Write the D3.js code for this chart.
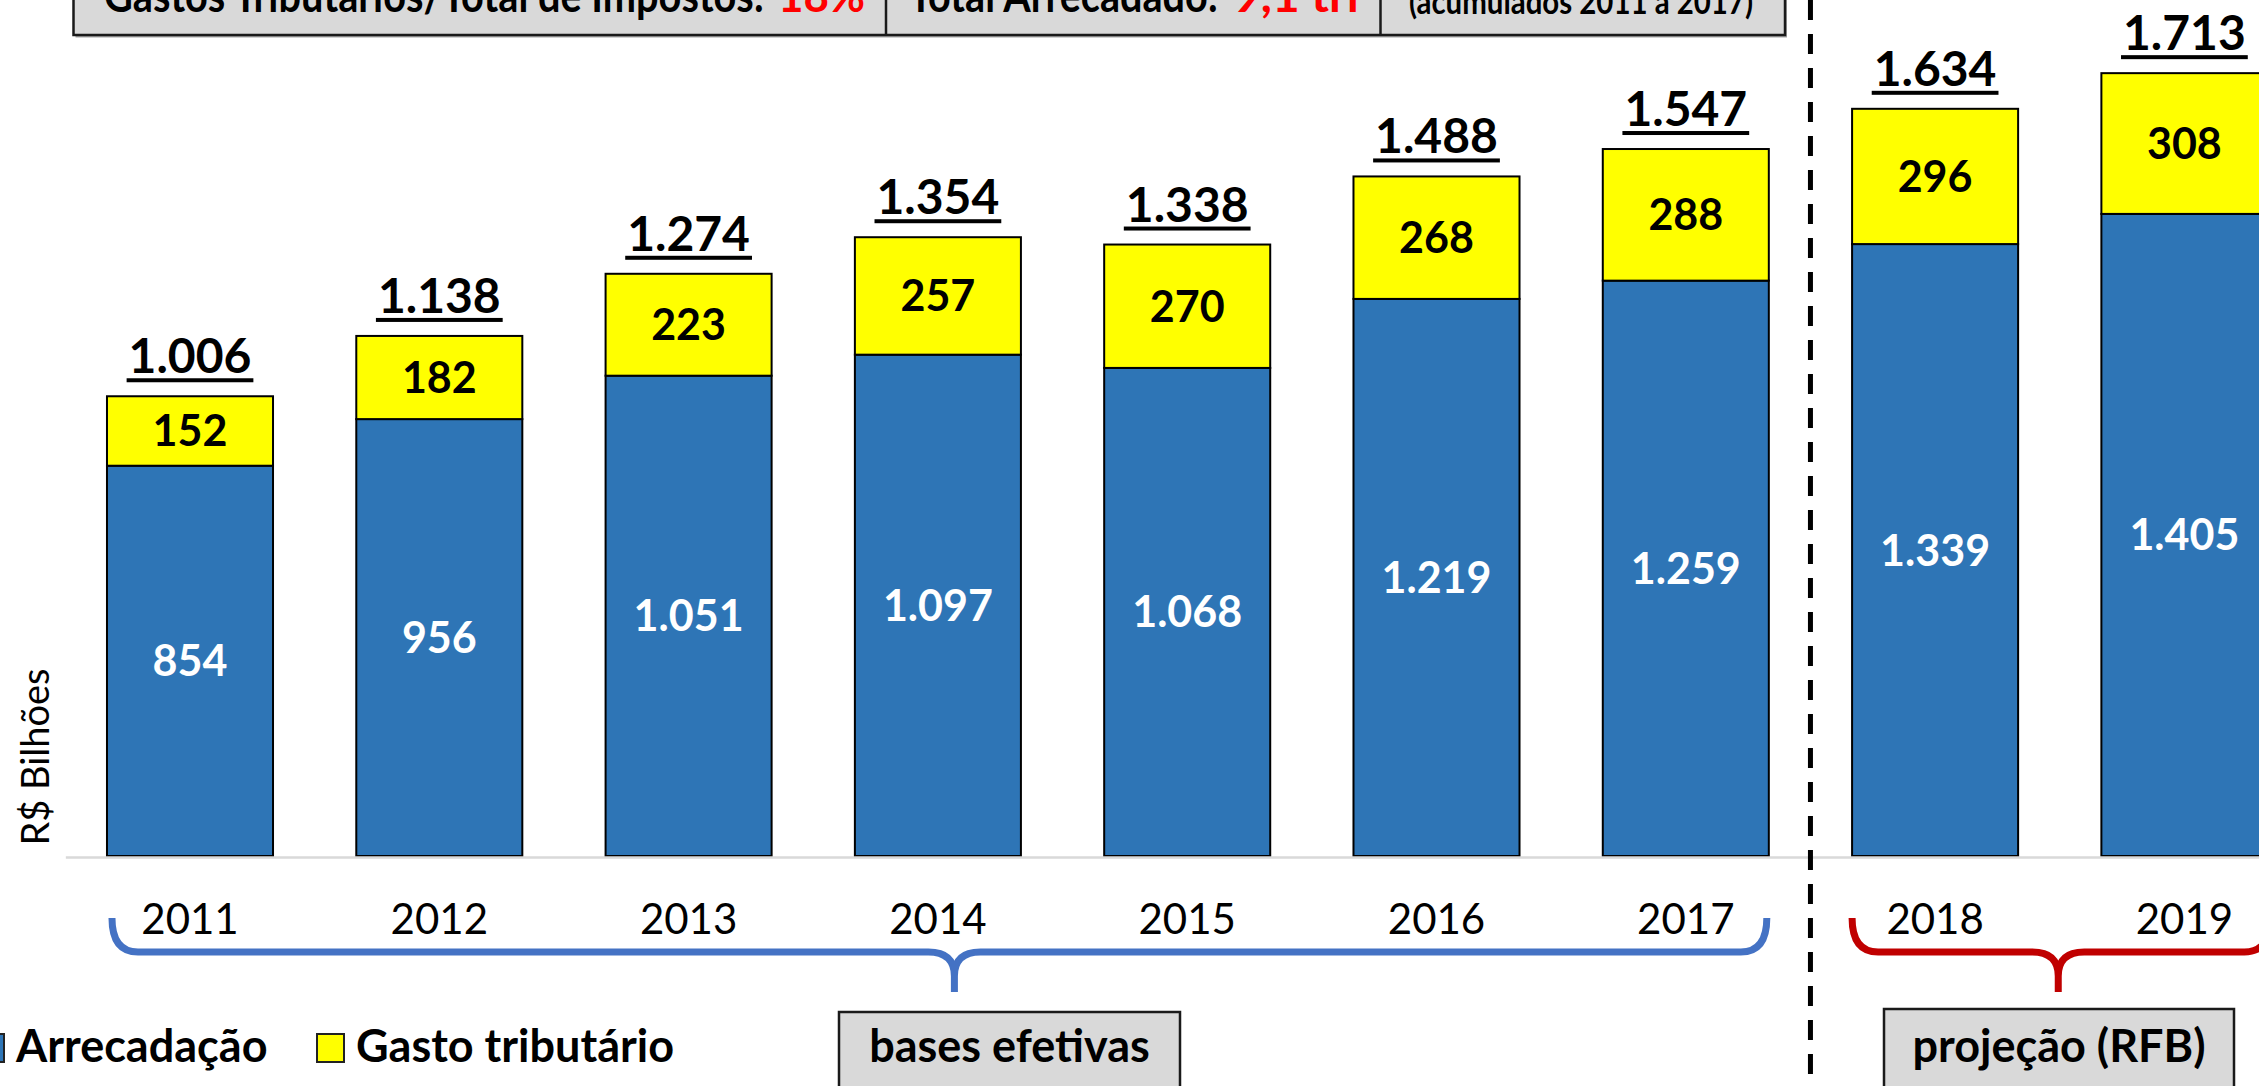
<!DOCTYPE html>
<html>
<head>
<meta charset="utf-8">
<script src="https://cdn.jsdelivr.net/npm/d3@7"></script>
<style>
  body { margin: 0; background: #fff; }
  svg { display: block; font-family: Lato, 'Open Sans', sans-serif; }
</style>
</head>
<body>
<svg id="chart" width="2259" height="1086"></svg>
<script>
// chart values
const years = ['2011', '2012', '2013', '2014', '2015', '2016', '2017', '2018', '2019'];
const arrecadacao = [854, 956, 1051, 1097, 1068, 1219, 1259, 1339, 1405];
const gastoTributario = [152, 182, 223, 257, 270, 268, 288, 296, 308];
// totals as printed above the bars (rounded in the source)
const totais = [1006, 1138, 1274, 1354, 1338, 1488, 1547, 1634, 1713];
const seriesNames = ['Arrecadação', 'Gasto tributário'];
const headerLabels = ['Gastos Tributários/Total de Impostos:', 'Total Arrecadado:', '(acumulados 2011 a 2017)'];
const headerValues = ['18%', '9,1 tri', ''];
const periodLabels = ['bases efetivas', 'projeção (RFB)'];
const periodYears = [['2011', '2017'], ['2018', '2019']];

const W = 2259, H = 1086;
const BLUE = '#2e75b6', YELLOW = '#ffff00';
const svg = d3.select('#chart');

const ptBR = d3.formatLocale({decimal: ',', thousands: '.', grouping: [3], currency: ['R$', '']});
const fmt = ptBR.format(',d');

// scales
const baseY = 856;
const y = d3.scaleLinear().domain([0, 1800]).range([baseY, baseY - 1800 * 0.457]);
const step = 249.3;
const x = d3.scaleBand()
  .domain(years)
  .range([65.35, 65.35 + years.length * step])
  .paddingInner(0.334)
  .paddingOuter(0.167);
const bw = x.bandwidth();

// stacked data
const table = years.map((yr, i) => ({year: yr, arrecadacao: arrecadacao[i], gasto: gastoTributario[i], total: totais[i]}));
const stacked = d3.stack().keys(['arrecadacao', 'gasto'])(table);
const colors = [BLUE, YELLOW];
const labelColors = ['#fff', '#000'];

// bars
const layers = svg.append('g').selectAll('g.layer')
  .data(stacked)
  .join('g')
  .attr('class', 'layer')
  .attr('fill', (d, i) => colors[i]);

layers.selectAll('rect')
  .data(d => d)
  .join('rect')
  .attr('x', d => x(d.data.year))
  .attr('y', d => y(d[1]))
  .attr('width', bw)
  .attr('height', d => y(d[0]) - y(d[1]))
  .attr('stroke', '#000')
  .attr('stroke-width', 2);

// labels inside the segments
layers.each(function(layer, li) {
  d3.select(this).selectAll('text')
    .data(layer)
    .join('text')
    .attr('x', d => x(d.data.year) + bw / 2)
    .attr('y', d => (y(d[0]) + y(d[1])) / 2)
    .attr('dy', '0.36em')
    .attr('text-anchor', 'middle')
    .attr('font-size', 43)
    .attr('font-weight', 700)
    .attr('fill', labelColors[li])
    .text(d => fmt(d[1] - d[0]));
});

// totals, underlined
const topLayer = stacked[stacked.length - 1];
const totalG = svg.append('g').selectAll('g')
  .data(topLayer)
  .join('g');
totalG.append('text')
  .attr('x', d => x(d.data.year) + bw / 2)
  .attr('y', d => y(d[1]) - 23)
  .attr('text-anchor', 'middle')
  .attr('font-size', 48)
  .attr('font-weight', 700)
  .attr('fill', '#000')
  .text(d => fmt(d.data.total));
totalG.each(function(d) {
  const g = d3.select(this);
  const tw = g.select('text').node().getComputedTextLength();
  const cx = x(d.data.year) + bw / 2;
  g.append('rect')
    .attr('x', cx - tw / 2 - 2)
    .attr('y', y(d[1]) - 18)
    .attr('width', tw + 4)
    .attr('height', 4)
    .attr('fill', '#000');
});

// x axis (baseline + year labels)
const xAxis = svg.append('g')
  .attr('transform', `translate(0,${baseY + 1})`)
  .call(d3.axisBottom(x).tickSize(0).tickSizeOuter(0).tickPadding(47));
xAxis.select('.domain').attr('stroke', '#d9d9d9').attr('stroke-width', 2.5);
xAxis.selectAll('text')
  .attr('font-family', 'Lato, sans-serif')
  .attr('font-size', 42)
  .attr('fill', '#000');

// y axis title
svg.append('text')
  .attr('transform', 'translate(49,757) rotate(-90)')
  .attr('text-anchor', 'middle')
  .attr('font-size', 38)
  .attr('fill', '#000')
  .text('R$ Bilhões');

// dashed divider between real and projected years
const divX = (x('2017') + bw + x('2018')) / 2;
svg.append('line')
  .attr('x1', divX).attr('x2', divX)
  .attr('y1', 0).attr('y2', H)
  .attr('stroke', '#000')
  .attr('stroke-width', 5)
  .attr('stroke-dasharray', '20,14');

// curly braces under the periods
function bracePath(x0, x1, xm, yTop, yMid, yTip) {
  const r = 26;
  return `M${x0},${yTop} Q${x0},${yMid} ${x0 + r},${yMid} L${xm - r},${yMid} Q${xm},${yMid} ${xm},${yMid + 24} L${xm},${yTip}` +
    ` M${xm},${yMid + 24} Q${xm},${yMid} ${xm + r},${yMid} L${x1 - r},${yMid} Q${x1},${yMid} ${x1},${yTop}`;
}
const braceColors = ['#4472c4', '#c00000'];
const tipShift = [15, -3];
periodYears.forEach(([a, b], i) => {
  const x0 = x(a) + (i === 0 ? 5 : 0);
  const x1 = x(b) + bw - (i === 0 ? 2 : -3);
  const xm = (x0 + x1) / 2 + tipShift[i];
  svg.append('path')
    .attr('d', bracePath(x0, x1, xm, 918, 952, 992))
    .attr('fill', 'none')
    .attr('stroke', braceColors[i])
    .attr('stroke-width', 7);
});

// period boxes at the bottom
const periodBoxes = [[839, 1180, 1012], [1884, 2234, 1009]];
periodLabels.forEach((lab, i) => {
  const [bx0, bx1, by] = periodBoxes[i];
  svg.append('rect')
    .attr('x', bx0).attr('y', by)
    .attr('width', bx1 - bx0).attr('height', 120)
    .attr('fill', '#d9d9d9')
    .attr('stroke', '#1a1a1a')
    .attr('stroke-width', 2.5);
  svg.append('text')
    .attr('x', (bx0 + bx1) / 2)
    .attr('y', 1062)
    .attr('text-anchor', 'middle')
    .attr('font-size', 45)
    .attr('font-weight', 700)
    .attr('fill', '#000')
    .text(lab);
});

// legend
const legendX = [-23, 317];
const legend = svg.append('g').selectAll('g')
  .data(seriesNames)
  .join('g')
  .attr('transform', (d, i) => `translate(${legendX[i]},0)`);
legend.append('rect')
  .attr('x', 0).attr('y', 1034)
  .attr('width', 27).attr('height', 28)
  .attr('fill', (d, i) => colors[i])
  .attr('stroke', '#222')
  .attr('stroke-width', 2);
legend.append('text')
  .attr('x', 39)
  .attr('y', 1062)
  .attr('font-size', 45)
  .attr('font-weight', 700)
  .attr('fill', '#000')
  .text(d => d);

// header summary boxes (cut off at top)
const cellEdges = [73.5, 886, 1380.5, 1785];
const hdr = svg.append('g');
hdr.append('rect')
  .attr('x', cellEdges[0] + 2).attr('y', -60)
  .attr('width', cellEdges[3] - cellEdges[0]).attr('height', 97.5)
  .attr('fill', '#a6a6a6');
hdr.append('rect')
  .attr('x', cellEdges[0]).attr('y', -60)
  .attr('width', cellEdges[3] - cellEdges[0]).attr('height', 95)
  .attr('fill', '#d9d9d9')
  .attr('stroke', '#1a1a1a')
  .attr('stroke-width', 2.5);
[cellEdges[1], cellEdges[2]].forEach(cx => {
  hdr.append('line')
    .attr('x1', cx).attr('x2', cx)
    .attr('y1', -60).attr('y2', 35)
    .attr('stroke', '#1a1a1a')
    .attr('stroke-width', 2.5);
});
const headerPos = [
  {lx: 104, lw: 660, vx: 778, vw: 87, yb: 12, fs: 46},
  {lx: 909, lw: 309, vx: 1233, vw: 126, yb: 12, fs: 46},
  {lx: 1409, lw: 344, vx: 0, vw: 0, yb: 14, fs: 34}
];
headerLabels.forEach((lab, i) => {
  const p = headerPos[i];
  hdr.append('text')
    .attr('x', p.lx).attr('y', p.yb)
    .attr('font-size', p.fs)
    .attr('font-weight', 700)
    .attr('fill', '#000')
    .attr('textLength', p.lw)
    .attr('lengthAdjust', 'spacingAndGlyphs')
    .text(lab);
  if (headerValues[i]) {
    hdr.append('text')
      .attr('x', p.vx).attr('y', p.yb)
      .attr('font-size', p.fs)
      .attr('font-weight', 700)
      .attr('fill', '#ff0000')
      .attr('textLength', p.vw)
      .attr('lengthAdjust', 'spacingAndGlyphs')
      .text(headerValues[i]);
  }
});
</script>
</body>
</html>
